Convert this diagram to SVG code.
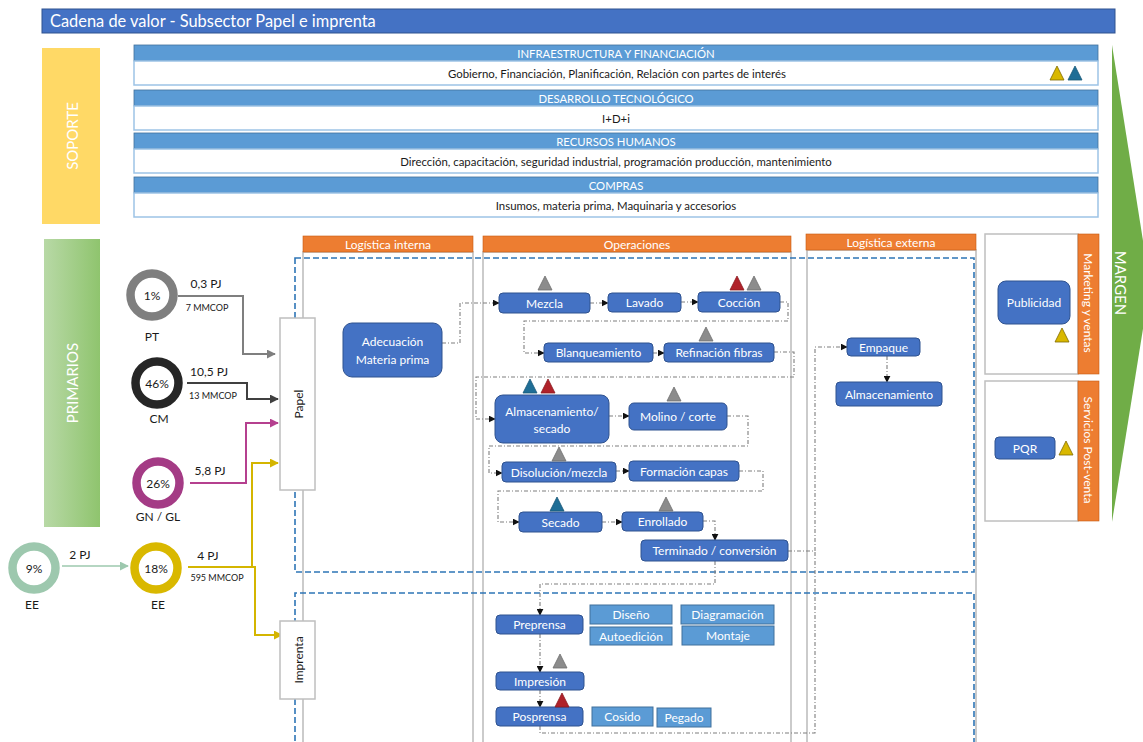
<svg xmlns="http://www.w3.org/2000/svg" width="1143" height="742" viewBox="0 0 1143 742">
  <style>
    text { font-family: Lato, "Open Sans", "Liberation Sans", sans-serif; }
    .hdr { fill: #5B9BD5; stroke: #41719C; stroke-width: 0.8; }
    .body { fill: #FFFFFF; stroke: #9DC3E6; stroke-width: 1.5; }
    .hdrTxt { fill: #FFFFFF; font-size: 11.3px; text-anchor: middle; dominant-baseline: central; }
    .bodyTxt { fill: #1A1A1A; font-size: 11.4px; text-anchor: middle; dominant-baseline: central; }
    .orange { fill: #ED7D31; stroke: #C55A11; stroke-width: 0.6; }
    .orTxt { fill: #FFFFFF; font-size: 12px; text-anchor: middle; dominant-baseline: central; }
    .col { fill: none; stroke: #BFBFBF; stroke-width: 1.6; }
    .dash { fill: none; stroke: #2E75B6; stroke-width: 1.6; stroke-dasharray: 6 3; }
    .node rect.n { fill: #4472C4; stroke: #2F528F; stroke-width: 1; }
    .node rect.s { fill: #5B9BD5; stroke: #41719C; stroke-width: 1; }
    .nTxt { fill: #FFFFFF; font-size: 12px; text-anchor: middle; dominant-baseline: central; }
    .lbl { fill: #1A1A1A; font-size: 12px; text-anchor: middle; }
    .sm { fill: #1A1A1A; font-size: 9px; text-anchor: middle; }
    .pct { fill: #1A1A1A; font-size: 12px; text-anchor: middle; dominant-baseline: central; }
    .box { fill: #FFFFFF; stroke: #BFBFBF; stroke-width: 1.5; }
    .flow { fill: none; stroke: #7F7F7F; stroke-width: 1.1; stroke-dasharray: 4 2 1 2; marker-end: url(#ah); }
    .flowN { fill: none; stroke: #7F7F7F; stroke-width: 1.1; stroke-dasharray: 4 2 1 2; }
    .tg { fill: #8C8C8C; stroke: #6F6F6F; stroke-width: 0.8; }
    .tr { fill: #B0222A; stroke: #8A1A20; stroke-width: 0.8; }
    .tb { fill: #1F6E96; stroke: #185877; stroke-width: 0.8; }
    .ty { fill: #D9B800; stroke: #7F6A00; stroke-width: 0.8; }
  </style>
  <defs>
    <linearGradient id="gPrim" x1="0" y1="0" x2="1" y2="0">
      <stop offset="0" stop-color="#B8D9A6"/>
      <stop offset="1" stop-color="#8FC46E"/>
    </linearGradient>
    <path id="tri" d="M0,14 L7,0 L14,14 Z"/>
    <marker id="ah" viewBox="0 0 10 10" refX="9" refY="5" markerWidth="7" markerHeight="7" orient="auto" markerUnits="userSpaceOnUse">
      <path d="M0,0 L10,5 L0,10 Z" fill="#111111"/>
    </marker>
    <marker id="aGray" viewBox="0 0 10 10" refX="9" refY="5" markerWidth="9" markerHeight="9" orient="auto" markerUnits="userSpaceOnUse">
      <path d="M0,0 L10,5 L0,10 Z" fill="#7F7F7F"/>
    </marker>
    <marker id="aDark" viewBox="0 0 10 10" refX="9" refY="5" markerWidth="9" markerHeight="9" orient="auto" markerUnits="userSpaceOnUse">
      <path d="M0,0 L10,5 L0,10 Z" fill="#404040"/>
    </marker>
    <marker id="aMag" viewBox="0 0 10 10" refX="9" refY="5" markerWidth="9" markerHeight="9" orient="auto" markerUnits="userSpaceOnUse">
      <path d="M0,0 L10,5 L0,10 Z" fill="#B5408F"/>
    </marker>
    <marker id="aGold" viewBox="0 0 10 10" refX="9" refY="5" markerWidth="9" markerHeight="9" orient="auto" markerUnits="userSpaceOnUse">
      <path d="M0,0 L10,5 L0,10 Z" fill="#D4B500"/>
    </marker>
    <marker id="aTeal" viewBox="0 0 10 10" refX="9" refY="5" markerWidth="9" markerHeight="9" orient="auto" markerUnits="userSpaceOnUse">
      <path d="M0,0 L10,5 L0,10 Z" fill="#9DC8AE"/>
    </marker>
  </defs>

  <rect width="1143" height="742" fill="#FFFFFF"/>

  <!-- Title -->
  <g id="title">
    <rect x="42" y="9" width="1073" height="24" fill="#4472C4" stroke="#2F528F" stroke-width="1"/>
    <text x="50" y="27" fill="#FFFFFF" font-size="16.4">Cadena de valor - Subsector Papel e imprenta</text>
  </g>

  <!-- Support activities -->
  <g id="soporte">
    <rect x="42" y="48" width="58" height="176" fill="#FFD966"/>
    <text transform="translate(72,136) rotate(-90)" fill="#FFFFFF" font-size="15" text-anchor="middle" dominant-baseline="central">SOPORTE</text>
  </g>
  <g id="infraestructura">
    <rect class="hdr" x="134" y="45" width="964" height="16"/>
    <rect class="body" x="134" y="61" width="964" height="24"/>
    <text class="hdrTxt" x="616" y="53">INFRAESTRUCTURA Y FINANCIACIÓN</text>
    <text class="bodyTxt" x="617" y="73">Gobierno, Financiación, Planificación, Relación con partes de interés</text>
    <use href="#tri" class="ty" x="1050" y="66"/>
    <use href="#tri" class="tb" x="1068" y="66"/>
  </g>
  <g id="desarrollo">
    <rect class="hdr" x="134" y="90" width="964" height="16"/>
    <rect class="body" x="134" y="106" width="964" height="24"/>
    <text class="hdrTxt" x="616" y="98">DESARROLLO TECNOLÓGICO</text>
    <text class="bodyTxt" x="616" y="118">I+D+i</text>
  </g>
  <g id="rrhh">
    <rect class="hdr" x="134" y="133" width="964" height="16"/>
    <rect class="body" x="134" y="149" width="964" height="24"/>
    <text class="hdrTxt" x="616" y="141">RECURSOS HUMANOS</text>
    <text class="bodyTxt" x="616" y="161">Dirección, capacitación, seguridad industrial, programación producción, mantenimiento</text>
  </g>
  <g id="compras">
    <rect class="hdr" x="134" y="177" width="964" height="16"/>
    <rect class="body" x="134" y="193" width="964" height="24"/>
    <text class="hdrTxt" x="616" y="185">COMPRAS</text>
    <text class="bodyTxt" x="616" y="205">Insumos, materia prima, Maquinaria y accesorios</text>
  </g>

  <!-- Margin arrow -->
  <g id="margen">
    <polygon points="1112,45 1150,285 1112,522" fill="#70AD47"/>
    <text transform="translate(1121,283) rotate(90)" fill="#FFFFFF" font-size="15" text-anchor="middle" dominant-baseline="central">MARGEN</text>
  </g>

  <!-- Primary activities -->
  <g id="primarios">
    <rect x="44" y="239" width="56" height="288" fill="url(#gPrim)"/>
    <text transform="translate(72,383) rotate(-90)" fill="#FFFFFF" font-size="15" text-anchor="middle" dominant-baseline="central">PRIMARIOS</text>
  </g>

  <!-- Column frames -->
  <g id="columnas">
    <rect class="col" x="303" y="252" width="170" height="500"/>
    <rect class="col" x="483" y="252" width="308" height="500"/>
    <rect class="col" x="807" y="250" width="169" height="502"/>
    <rect class="orange" x="303" y="236" width="170" height="16"/>
    <text class="orTxt" x="388" y="244">Logística interna</text>
    <rect class="orange" x="483" y="236" width="308" height="16"/>
    <text class="orTxt" x="637" y="244">Operaciones</text>
    <rect class="orange" x="806" y="234" width="170" height="16"/>
    <text class="orTxt" x="891" y="242">Logística externa</text>
  </g>

  <!-- Process areas -->
  <g id="areas">
    <rect class="dash" x="295" y="258" width="679" height="314"/>
    <path class="dash" d="M295,750 V593 H974 V750"/>
  </g>

  <!-- Marketing and after-sales -->
  <g id="marketing">
    <rect class="box" x="985" y="234" width="93" height="140"/>
    <rect class="orange" x="1078" y="234" width="21" height="140"/>
    <text transform="translate(1088,303) rotate(90)" fill="#FFFFFF" font-size="12" text-anchor="middle" dominant-baseline="central">Marketing y ventas</text>
  </g>
  <g id="postventa">
    <rect class="box" x="985" y="381" width="93" height="140"/>
    <rect class="orange" x="1078" y="381" width="21" height="140"/>
    <text transform="translate(1088,450) rotate(90)" fill="#FFFFFF" font-size="12" text-anchor="middle" dominant-baseline="central">Servicios Post-venta</text>
  </g>

  <!-- Energy sources -->
  <g id="src-pt">
    <circle cx="152" cy="295" r="21.5" fill="#FFFFFF" stroke="#7F7F7F" stroke-width="8.5"/>
    <text class="pct" x="152" y="295">1%</text>
    <text class="lbl" x="152" y="341">PT</text>
  </g>
  <g id="src-cm">
    <circle cx="157" cy="383" r="21.5" fill="#FFFFFF" stroke="#262626" stroke-width="8.5"/>
    <text class="pct" x="157" y="383">46%</text>
    <text class="lbl" x="159" y="423">CM</text>
  </g>
  <g id="src-gn">
    <circle cx="158" cy="483" r="21.5" fill="#FFFFFF" stroke="#A43B85" stroke-width="8.5"/>
    <text class="pct" x="158" y="483">26%</text>
    <text class="lbl" x="158" y="521">GN / GL</text>
  </g>
  <g id="src-ee9">
    <circle cx="34" cy="568" r="21.5" fill="#FFFFFF" stroke="#9DC8AE" stroke-width="8.5"/>
    <text class="pct" x="34" y="568">9%</text>
    <text class="lbl" x="32" y="609">EE</text>
  </g>
  <g id="src-ee18">
    <circle cx="156" cy="568" r="21.5" fill="#FFFFFF" stroke="#D9B800" stroke-width="8.5"/>
    <text class="pct" x="156" y="568">18%</text>
    <text class="lbl" x="158" y="609">EE</text>
  </g>

  <!-- Energy flows -->
  <g id="flujos-energia" fill="none" stroke-width="2">
    <path d="M178,296 H243 V354 H275" stroke="#7F7F7F" marker-end="url(#aGray)"/>
    <path d="M187,383 H247 V399 H278" stroke="#404040" marker-end="url(#aDark)"/>
    <path d="M190,483 H246 V423 H278" stroke="#B5408F" marker-end="url(#aMag)"/>
    <path d="M252,567 V463 H278" stroke="#D4B500" marker-end="url(#aGold)"/>
    <path d="M188,567 H255 V635 H282" stroke="#D4B500" marker-end="url(#aGold)"/>
    <path d="M62,566 H128" stroke="#9DC8AE" stroke-width="1.6" marker-end="url(#aTeal)"/>
    <text class="lbl" x="206" y="288" stroke="none">0,3 PJ</text>
    <text class="sm" x="207" y="311" stroke="none">7 MMCOP</text>
    <text class="lbl" x="209" y="376" stroke="none">10,5 PJ</text>
    <text class="sm" x="213" y="399" stroke="none">13 MMCOP</text>
    <text class="lbl" x="210" y="475" stroke="none">5,8 PJ</text>
    <text class="lbl" x="208" y="560" stroke="none">4 PJ</text>
    <text class="sm" x="217" y="581" stroke="none">595 MMCOP</text>
    <text class="lbl" x="80" y="559" stroke="none">2 PJ</text>
  </g>

  <!-- Subsector boxes -->
  <g id="papel">
    <rect class="box" x="280" y="318" width="35" height="172"/>
    <text transform="translate(298,404) rotate(-90)" fill="#1A1A1A" font-size="12" text-anchor="middle" dominant-baseline="central">Papel</text>
  </g>
  <g id="imprenta">
    <rect class="box" x="280" y="621" width="35" height="78"/>
    <text transform="translate(298,660) rotate(-90)" fill="#1A1A1A" font-size="12" text-anchor="middle" dominant-baseline="central">Imprenta</text>
  </g>

  <!-- Process connectors -->
  <g id="conectores">
    <path class="flow" d="M442,343 H460 V303 H499"/>
    <path class="flow" d="M590,303 H608"/>
    <path class="flow" d="M681,302 H698"/>
    <path class="flow" d="M780,302 H788 V321 H524 V353 H544"/>
    <path class="flow" d="M653,353 H664"/>
    <path class="flow" d="M774,352 H794 V377 H476 V419 H495"/>
    <path class="flow" d="M609,416 H629"/>
    <path class="flow" d="M727,416 H748 V446 H489 V473 H502"/>
    <path class="flow" d="M616,471 H629"/>
    <path class="flow" d="M739,471 H763 V491 H498 V522 H519"/>
    <path class="flow" d="M602,522 H622"/>
    <path class="flow" d="M703,521 H715 V540"/>
    <path class="flow" d="M788,551 H815 V347 H847"/>
    <path class="flow" d="M715,561 V584 H540 V615"/>
    <path class="flow" d="M540,634 V672"/>
    <path class="flow" d="M540,690 V707"/>
    <path class="flowN" d="M540,726 V733 H815 V551"/>
    <path class="flow" d="M887,356 V382"/>
  </g>

  <!-- Process nodes -->
  <g id="adecuacion" class="node">
    <rect class="n" x="343" y="323" width="99" height="54" rx="9"/>
    <text class="nTxt" x="392.5" y="341">Adecuación</text>
    <text class="nTxt" x="392.5" y="359">Materia prima</text>
  </g>
  <g id="mezcla" class="node">
    <rect class="n" x="499" y="293" width="91" height="20" rx="4"/>
    <text class="nTxt" x="544.5" y="303">Mezcla</text>
    <use href="#tri" class="tg" x="538" y="276"/>
  </g>
  <g id="lavado" class="node">
    <rect class="n" x="608" y="293" width="73" height="19" rx="4"/>
    <text class="nTxt" x="644.5" y="302.5">Lavado</text>
  </g>
  <g id="coccion" class="node">
    <rect class="n" x="698" y="292" width="82" height="20" rx="4"/>
    <text class="nTxt" x="739" y="302">Cocción</text>
    <use href="#tri" class="tr" x="730" y="276"/>
    <use href="#tri" class="tg" x="747" y="276"/>
  </g>
  <g id="blanqueamiento" class="node">
    <rect class="n" x="544" y="343" width="109" height="19" rx="4"/>
    <text class="nTxt" x="598.5" y="352.5">Blanqueamiento</text>
  </g>
  <g id="refinacion" class="node">
    <rect class="n" x="664" y="343" width="110" height="19" rx="4"/>
    <text class="nTxt" x="719" y="352.5">Refinación fibras</text>
    <use href="#tri" class="tg" x="699" y="327"/>
  </g>
  <g id="almacenamiento-secado" class="node">
    <rect class="n" x="495" y="395" width="114" height="48" rx="8"/>
    <text class="nTxt" x="552" y="411">Almacenamiento/</text>
    <text class="nTxt" x="552" y="428">secado</text>
    <use href="#tri" class="tb" x="523" y="379"/>
    <use href="#tri" class="tr" x="541" y="379"/>
  </g>
  <g id="molino" class="node">
    <rect class="n" x="629" y="403" width="98" height="27" rx="5"/>
    <text class="nTxt" x="678" y="416.5">Molino / corte</text>
    <use href="#tri" class="tg" x="667" y="387"/>
  </g>
  <g id="disolucion" class="node">
    <rect class="n" x="502" y="462" width="114" height="20" rx="4"/>
    <text class="nTxt" x="559" y="472">Disolución/mezcla</text>
    <use href="#tri" class="tg" x="552" y="447"/>
  </g>
  <g id="formacion" class="node">
    <rect class="n" x="629" y="461" width="110" height="20" rx="4"/>
    <text class="nTxt" x="684" y="471">Formación capas</text>
  </g>
  <g id="secado" class="node">
    <rect class="n" x="519" y="512" width="83" height="20" rx="4"/>
    <text class="nTxt" x="560.5" y="522">Secado</text>
    <use href="#tri" class="tb" x="550" y="497"/>
  </g>
  <g id="enrollado" class="node">
    <rect class="n" x="622" y="512" width="81" height="19" rx="4"/>
    <text class="nTxt" x="662.5" y="521.5">Enrollado</text>
    <use href="#tri" class="tg" x="659" y="497"/>
  </g>
  <g id="terminado" class="node">
    <rect class="n" x="641" y="540" width="147" height="21" rx="4"/>
    <text class="nTxt" x="714.5" y="550.5">Terminado / conversión</text>
  </g>
  <g id="empaque" class="node">
    <rect class="n" x="847" y="338" width="73" height="18" rx="4"/>
    <text class="nTxt" x="883.5" y="347">Empaque</text>
  </g>
  <g id="almacenamiento" class="node">
    <rect class="n" x="836" y="382" width="106" height="24" rx="4"/>
    <text class="nTxt" x="889" y="394">Almacenamiento</text>
  </g>
  <g id="preprensa" class="node">
    <rect class="n" x="496" y="615" width="87" height="19" rx="4"/>
    <text class="nTxt" x="539.5" y="624.5">Preprensa</text>
  </g>
  <g id="diseno" class="node">
    <rect class="s" x="590" y="605" width="82" height="19"/>
    <text class="nTxt" x="631" y="614.5">Diseño</text>
  </g>
  <g id="autoedicion" class="node">
    <rect class="s" x="590" y="627" width="82" height="18"/>
    <text class="nTxt" x="631" y="636">Autoedición</text>
  </g>
  <g id="diagramacion" class="node">
    <rect class="s" x="681" y="605" width="93" height="19"/>
    <text class="nTxt" x="727.5" y="614.5">Diagramación</text>
  </g>
  <g id="montaje" class="node">
    <rect class="s" x="682" y="626" width="92" height="19"/>
    <text class="nTxt" x="728" y="635.5">Montaje</text>
  </g>
  <g id="impresion" class="node">
    <rect class="n" x="496" y="672" width="88" height="18" rx="4"/>
    <text class="nTxt" x="540" y="681">Impresión</text>
    <use href="#tri" class="tg" x="553" y="654"/>
  </g>
  <g id="posprensa" class="node">
    <rect class="n" x="496" y="707" width="87" height="19" rx="4"/>
    <text class="nTxt" x="539.5" y="716.5">Posprensa</text>
    <use href="#tri" class="tr" x="555" y="693"/>
  </g>
  <g id="cosido" class="node">
    <rect class="s" x="592" y="707" width="61" height="19"/>
    <text class="nTxt" x="622.5" y="716.5">Cosido</text>
  </g>
  <g id="pegado" class="node">
    <rect class="s" x="657" y="708" width="54" height="19"/>
    <text class="nTxt" x="684" y="717.5">Pegado</text>
  </g>
  <g id="publicidad" class="node">
    <rect class="n" x="998" y="281" width="72" height="43" rx="8"/>
    <text class="nTxt" x="1034" y="302.5">Publicidad</text>
    <use href="#tri" class="ty" x="1055" y="328"/>
  </g>
  <g id="pqr" class="node">
    <rect class="n" x="995" y="437" width="60" height="22" rx="4"/>
    <text class="nTxt" x="1025" y="448">PQR</text>
    <use href="#tri" class="ty" x="1059" y="441"/>
  </g>
</svg>
